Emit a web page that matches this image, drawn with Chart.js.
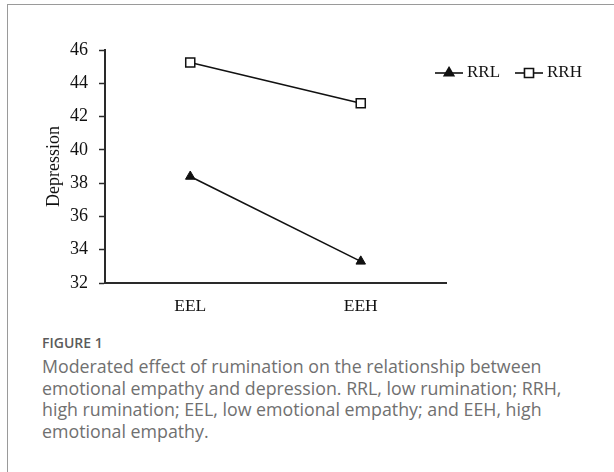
<!DOCTYPE html>
<html>
<head>
<meta charset="utf-8">
<script src="https://cdn.jsdelivr.net/npm/chart.js@4"></script>
<style>
  body { margin: 0; background: #fff; width: 614px; height: 472px; overflow: hidden; position: relative; }
  .frame { position: absolute; left: 7px; top: 4px; width: 640px; height: 500px; border-top: 1px solid #9a9a9a; border-left: 1px solid #9a9a9a; }
  .chart-box { position: absolute; left: 0; top: 0; width: 614px; height: 330px; }
  .fig { position: absolute; left: 42px; top: 333px; font-family: "Open Sans", sans-serif; font-weight: 600; font-size: 14px; color: #5b5b5b; }
  .caption { position: absolute; left: 42px; top: 356px; font-family: "Open Sans", sans-serif; font-size: 17.8px; line-height: 21.7px; color: #707070; white-space: nowrap; }
</style>
</head>
<body>
<div class="frame"></div>
<div class="chart-box"><canvas id="myChart" width="614" height="330"></canvas></div>
<div class="fig">FIGURE 1</div>
<div class="caption">Moderated effect of rumination on the relationship between<br>emotional empathy and depression. RRL, low rumination; RRH,<br>high rumination; EEL, low emotional empathy; and EEH, high<br>emotional empathy.</div>
<script>
const categories = ['EEL', 'EEH']
const rrl = [38.4, 33.3]
const rrh = [45.25, 42.8]
const yTicks = [32, 34, 36, 38, 40, 42, 44, 46]

// legend drawn next to the plot, like the original figure
const sideLegend = {
    id: 'sideLegend',
    afterDraw(chart) {
        const ctx = chart.ctx
        let x = 435
        const y = 73
        ctx.save()
        chart.data.datasets.forEach(ds => {
            ctx.strokeStyle = ds.borderColor
            ctx.lineWidth = 1.6
            ctx.beginPath()
            ctx.moveTo(x, y)
            ctx.lineTo(x + 28, y)
            ctx.stroke()
            const cx = x + 14
            ctx.fillStyle = ds.pointBackgroundColor
            ctx.beginPath()
            if (ds.pointStyle === 'triangle') {
                const r = ds.pointRadius
                ctx.moveTo(cx, y - r)
                ctx.lineTo(cx + r * 0.866, y + r * 0.5)
                ctx.lineTo(cx - r * 0.866, y + r * 0.5)
                ctx.closePath()
                ctx.fill()
                ctx.stroke()
            } else {
                const s = ds.pointRadius / Math.SQRT2
                ctx.rect(cx - s, y - s, 2 * s, 2 * s)
                ctx.fill()
                ctx.stroke()
            }
            ctx.fillStyle = '#111'
            ctx.font = '17px "Liberation Serif"'
            ctx.textBaseline = 'middle'
            ctx.textAlign = 'left'
            ctx.fillText(ds.label, x + 32, y)
            x += 80
        })
        ctx.restore()
    }
}

const chart = document.getElementById('myChart')
let lineChart = new Chart(chart, {
    type: 'line',
    data: {
        labels: categories,
        datasets: [{
            label: 'RRL',
            data: rrl,
            borderColor: '#111',
            borderWidth: 1.6,
            pointStyle: 'triangle',
            pointRadius: 5.5,
            pointBackgroundColor: '#111',
            pointBorderColor: '#111',
            pointBorderWidth: 1,
            fill: false,
            tension: 0
        }, {
            label: 'RRH',
            data: rrh,
            borderColor: '#111',
            borderWidth: 1.6,
            pointStyle: 'rect',
            pointRadius: 6.4,
            pointBackgroundColor: '#fff',
            pointBorderColor: '#111',
            pointBorderWidth: 1.5,
            fill: false,
            tension: 0
        }]
    },
    options: {
        responsive: false,
        animation: false,
        layout: { padding: { left: 39, right: 168, top: 50, bottom: 7 } },
        plugins: {
            legend: { display: false },
            tooltip: { enabled: false }
        },
        scales: {
            x: {
                offset: true,
                grid: { display: false, drawTicks: false },
                border: { display: true, color: '#2a2a2a', width: 2 },
                ticks: { color: '#111', padding: 13, font: { family: 'Liberation Serif', size: 17.5 } },
                afterFit: (scale) => { scale.height = 40 }
            },
            y: {
                min: 32,
                max: 46,
                afterBuildTicks: (scale) => { scale.ticks = yTicks.map(v => ({ value: v })) },
                grid: { drawOnChartArea: false, drawTicks: true, tickLength: 6, tickColor: '#2a2a2a', tickWidth: 1.5 },
                border: { display: true, color: '#2a2a2a', width: 2 },
                ticks: { color: '#111', padding: 11, font: { family: 'Liberation Serif', size: 18 } },
                title: { display: true, text: 'Depression', color: '#111', font: { family: 'Liberation Serif', size: 18 } },
                afterFit: (scale) => { scale.width = 66 }
            }
        }
    },
    plugins: [sideLegend]
})
</script>
</body>
</html>
